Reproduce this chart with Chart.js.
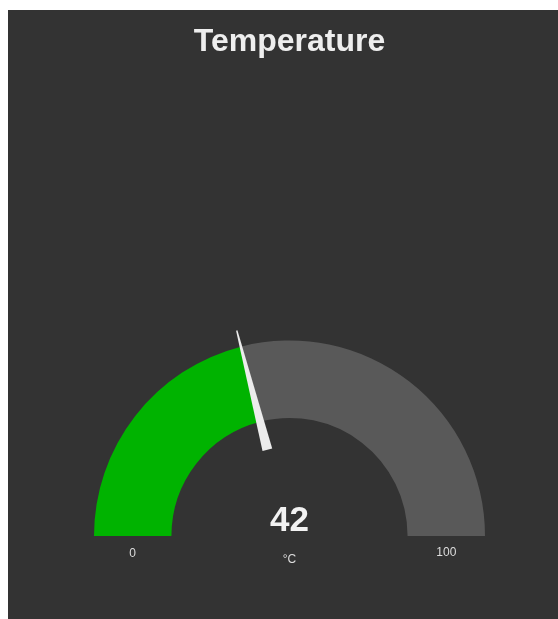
<!DOCTYPE html>
<html>
<head>
<meta charset="utf-8">
<script src="https://cdn.jsdelivr.net/npm/chart.js@4/dist/chart.umd.min.js"></script>
<style>
  html, body { margin: 0; padding: 0; background: #ffffff; overflow: hidden; }
  #panel { position: absolute; left: 8px; top: 10px; width: 550px; height: 609px; background: #333333; }
  canvas { display: block; }
</style>
</head>
<body>
<div id="panel"><canvas id="c" width="550" height="609"></canvas></div>
<script>
const title = "Temperature";
const gaugeValue = 42;
const gaugeMin = 0;
const gaugeMax = 100;
const unitLabel = "°C";
const minLabel = "0";
const maxLabel = "100";
const sliceColors = ["#00b300", "#595959"];

const needlePlugin = {
  id: 'gaugeExtras',
  afterDatasetsDraw(chart) {
    const ctx = chart.ctx;
    const arc = chart.getDatasetMeta(0).data[0];
    const cx = arc.x, cy = arc.y;
    const R = arc.outerRadius, r = arc.innerRadius;
    const ang = arc.endAngle;
    // needle
    const r0 = R * 0.455, r1 = R * 1.085;
    const baseHalf = 5, tipHalf = 0.7;
    const ux = Math.cos(ang), uy = Math.sin(ang);
    const px = -uy, py = ux;
    ctx.save();
    ctx.fillStyle = "#ececec";
    ctx.beginPath();
    ctx.moveTo(cx + ux * r0 + px * baseHalf, cy + uy * r0 + py * baseHalf);
    ctx.lineTo(cx + ux * r1 + px * tipHalf, cy + uy * r1 + py * tipHalf);
    ctx.lineTo(cx + ux * r1 - px * tipHalf, cy + uy * r1 - py * tipHalf);
    ctx.lineTo(cx + ux * r0 - px * baseHalf, cy + uy * r0 - py * baseHalf);
    ctx.closePath();
    ctx.fill();
    // value text
    ctx.textAlign = "center";
    ctx.textBaseline = "alphabetic";
    ctx.fillStyle = "#f2f2f2";
    ctx.font = "bold 35px 'Liberation Sans', Arial, sans-serif";
    ctx.fillText(String(gaugeValue), cx, cy - 5);
    ctx.fillStyle = "#dddddd";
    ctx.font = "12px 'Liberation Sans', Arial, sans-serif";
    ctx.textBaseline = "middle";
    ctx.fillText(unitLabel, cx, cy + 24);
    const mid = (R + r) / 2;
    ctx.fillText(minLabel, cx - mid, cy + 18);
    ctx.fillText(maxLabel, cx + mid, cy + 17);
    ctx.restore();
  }
};

new Chart(document.getElementById('c'), {
  type: 'doughnut',
  data: {
    labels: ['value', 'rest'],
    datasets: [{
      data: [gaugeValue - gaugeMin, gaugeMax - gaugeValue],
      backgroundColor: sliceColors,
      borderWidth: 0
    }]
  },
  options: {
    responsive: false,
    animation: false,
    rotation: -90,
    circumference: 180,
    radius: 195.5,
    cutout: '60.4%',
    layout: { padding: { left: 13, right: 0, top: 0, bottom: 83 } },
    plugins: {
      legend: { display: false },
      tooltip: { enabled: false },
      title: {
        display: true,
        text: title,
        color: '#eeeeee',
        font: { family: "'Liberation Sans', Arial, sans-serif", size: 32, weight: 'bold', lineHeight: 1.2 },
        padding: { top: 12.8, bottom: 279.3 }
      }
    }
  },
  plugins: [needlePlugin]
});
</script>
</body>
</html>
